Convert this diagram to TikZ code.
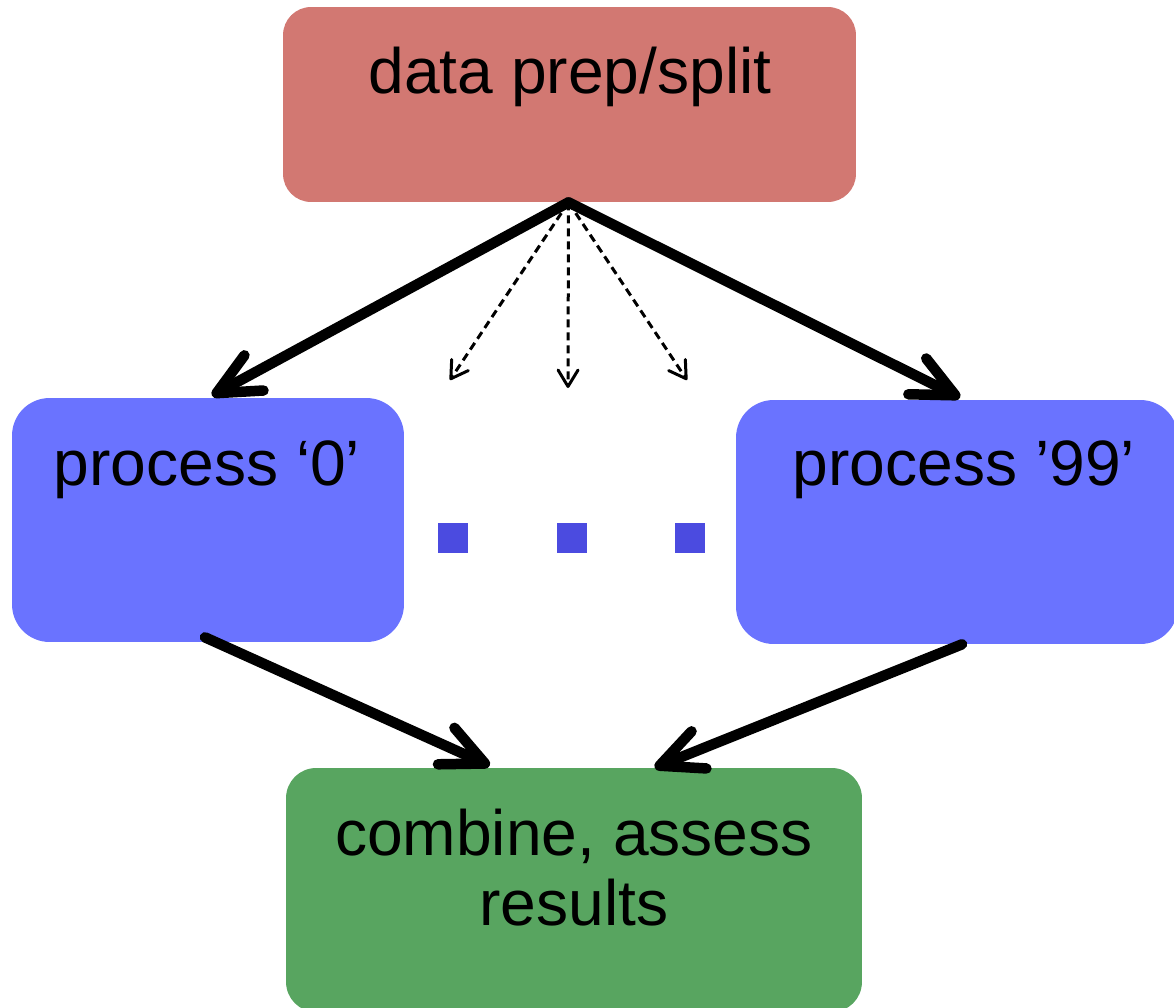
\documentclass[tikz,border=0pt]{standalone}
\usepackage{fontspec}
\setmainfont{Liberation Sans}
\usetikzlibrary{arrows.meta,calc}
\definecolor{prepred}{HTML}{D27872}
\definecolor{procblue}{HTML}{6A73FF}
\definecolor{dotblue}{HTML}{4B4BE0}
\definecolor{resgreen}{HTML}{58A560}
\begin{document}
\begin{tikzpicture}[x=0.02cm,y=-0.02cm,
  box/.style={rectangle,draw=none,inner sep=0pt},
  lbl/.style={inner sep=0pt,anchor=base,font=\fontsize{36.5}{44}\selectfont},
  thick arrow/.style={line width=0.21cm,-{Straight Barb[length=0.85cm,width=0.8cm,round]},line cap=round},
  thin arrow/.style={line width=0.06cm,dash pattern=on 0.16cm off 0.1cm,-{Straight Barb[length=0.33cm,width=0.4cm,round]}},
  dot/.style={rectangle,fill=dotblue,inner sep=0pt,minimum size=0.6cm}]
\useasboundingbox (0,0) rectangle (1174,1008);
\node[box,fill=prepred,rounded corners=0.56cm,minimum width=11.46cm,minimum height=3.9cm] (prep) at (569.5,104.5) {};
\node[box,fill=procblue,rounded corners=0.75cm,minimum width=7.84cm,minimum height=4.88cm] (p0) at (208,520) {};
\node[box,fill=procblue,rounded corners=0.75cm,minimum width=8.84cm,minimum height=4.88cm] (p99) at (957,522) {};
\node[box,fill=resgreen,rounded corners=0.6cm,minimum width=11.52cm,minimum height=4.88cm] (res) at (574,890) {};
\node[lbl] (tprep) at (570,93) {data prep/split};
\node[lbl] (tp0) at (207,485) {process ‘0’};
\node[lbl] (tp99) at (964,485) {process ’99’};
\node[lbl] (tres1) at (574,855) {combine, assess};
\node[lbl] (tres2) at (574,925) {results};
\node[dot] (d1) at (453,538) {};
\node[dot] (d2) at (572,538) {};
\node[dot] (d3) at (690,538) {};
\coordinate (e1) at (450,380);
\coordinate (e2) at (568,388);
\coordinate (e3) at (687,380);
\coordinate (s) at ($(prep.south)+(-1,0)$);
\draw[thin arrow] (s) -- (e1);
\draw[thin arrow] (s) -- (e2);
\draw[thin arrow] (s) -- (e3);
\draw[thick arrow] (s) -- ($(p0.north)+(4,-2)$);
\draw[thick arrow] (s) -- ($(p99.north)+(3,-2)$);
\draw[thick arrow] ($(p0.south)+(-3,-5)$) -- ($(res.north west)+(204,-2)$);
\draw[thick arrow] ($(p99.south)+(5,0)$) -- ($(res.north west)+(369,0)$);
\end{tikzpicture}
\end{document}
